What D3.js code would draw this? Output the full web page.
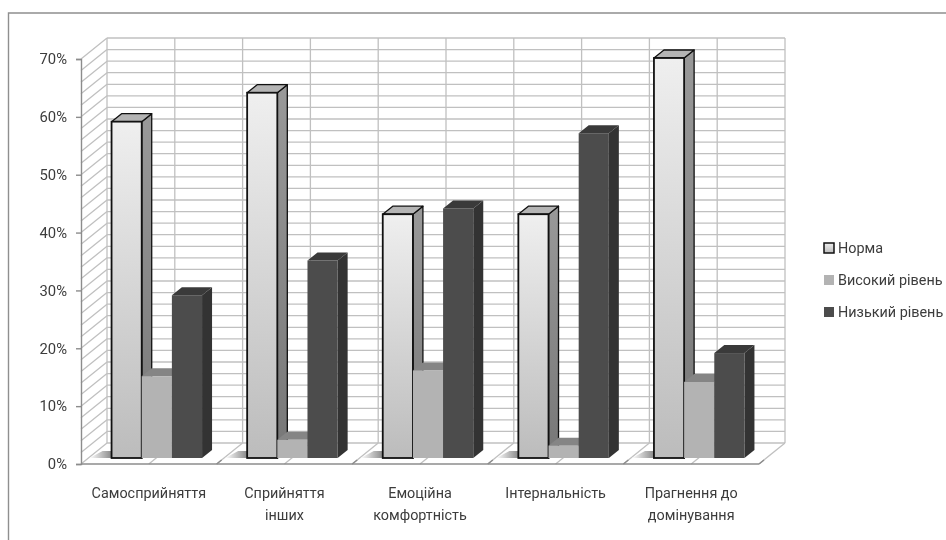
<!DOCTYPE html>
<html>
<head>
<meta charset="utf-8">
<script src="https://cdnjs.cloudflare.com/ajax/libs/d3/7.8.5/d3.min.js"></script>
<style>
html, body { margin: 0; padding: 0; background: #fff; }
svg { display: block; filter: blur(0.45px); }
text { font-family: Roboto, "Noto Sans", sans-serif; font-size: 14.4px; fill: #3c3c3c; }
.grid { stroke: #c0c0c0; stroke-width: 1.3; fill: none; }
.axis-line { stroke: #8c8c8c; stroke-width: 1.4; fill: none; }
</style>
</head>
<body>
<svg id="chart" width="946" height="540"></svg>
<script>
var categories = ["Самосприйняття", "Сприйняття інших", "Емоційна комфортність", "Інтернальність", "Прагнення до домінування"];
var seriesNames = ["Норма", "Високий рівень", "Низький рівень"];
var norma = [59, 64, 43, 43, 70];
var highLevel = [15, 4, 16, 3, 14];
var lowLevel = [29, 35, 44, 57, 19];
var yTicks = [0, 10, 20, 30, 40, 50, 60, 70];
var minorTicks = d3.range(0, 71, 2);

var seriesValues = [norma, highLevel, lowLevel];
var svg = d3.select("#chart");

var left = 81, right = 759, bottom = 464, top_ = 59;
var depthX = 26, depthY = 21;      // wall offset behind the axes
var barDepthX = 10, barDepthY = 8; // depth of one bar
var shiftX = 8, barBase = 458;     // bars stand in the middle of the floor

var x0 = d3.scaleBand().domain(categories).range([left, right]);
var x1 = d3.scaleBand().domain(seriesNames).range([0, 90.5]);
var y = d3.scaleLinear().domain([0, 70]).range([bottom, top_]);
var yBar = d3.scaleLinear().domain([0, 70]).range([bottom - 1, top_ - 1]);

var styles = [
    { front: "url(#normaFront)", side: "url(#normaSide)", top: "#b4b4b4", stroke: "#111" },
    { front: "#b3b3b3", side: "#7c7c7c", top: "#858585", stroke: "none" },
    { front: "#4c4c4c", side: "#333333", top: "#3a3a3a", stroke: "none" }
];

var defs = svg.append("defs");
function addGradient(id, stops, horizontal) {
    var g = defs.append("linearGradient").attr("id", id)
        .attr("x1", 0).attr("y1", 0)
        .attr("x2", horizontal ? 1 : 0).attr("y2", horizontal ? 0 : 1);
    stops.forEach(function(s, i) {
        g.append("stop").attr("offset", i / (stops.length - 1)).attr("stop-color", s);
    });
}
addGradient("normaFront", ["#efefef", "#bcbcbc"]);
addGradient("normaSide", ["#999999", "#777777"]);
addGradient("baseShadow", ["#ffffff", "#8a8a8a"], true);

// outer frame, cropped on the right and at the bottom
svg.append("path")
    .attr("d", "M8.5,540V13H946")
    .attr("fill", "none").attr("stroke", "#8f8f8f").attr("stroke-width", 1.4);

var gridTop = y(70) - depthY;
var gridBottom = y(0) - depthY;

// back wall and left wall, minor lines every 2%
var walls = svg.append("g");
walls.selectAll(".back-h").data(minorTicks).enter().append("line")
    .attr("class", "grid")
    .attr("x1", left + depthX).attr("x2", right + depthX)
    .attr("y1", function(d) { return y(d) - depthY; })
    .attr("y2", function(d) { return y(d) - depthY; });
walls.selectAll(".side-d").data(minorTicks).enter().append("line")
    .attr("class", "grid")
    .attr("x1", left).attr("x2", left + depthX)
    .attr("y1", function(d) { return y(d); })
    .attr("y2", function(d) { return y(d) - depthY; });

var halfSteps = d3.range(0, categories.length * 2 + 1).map(function(i) {
    return left + i * x0.bandwidth() / 2;
});
walls.selectAll(".back-v").data(halfSteps).enter().append("line")
    .attr("class", "grid")
    .attr("x1", function(d) { return d + depthX; })
    .attr("x2", function(d) { return d + depthX; })
    .attr("y1", gridTop).attr("y2", gridBottom);
walls.selectAll(".floor-d").data(x0.domain()).enter().append("line")
    .attr("class", "grid")
    .attr("x1", function(d) { return x0(d) + x0.bandwidth(); })
    .attr("x2", function(d) { return x0(d) + x0.bandwidth() + depthX; })
    .attr("y1", y(0)).attr("y2", gridBottom);
walls.selectAll(".floor-m").data(x0.domain()).enter().append("line")
    .attr("class", "grid")
    .attr("x1", function(d) { return x0(d) + x0.bandwidth() / 2; })
    .attr("x2", function(d) { return x0(d) + x0.bandwidth() / 2 + depthX; })
    .attr("y1", y(0)).attr("y2", gridBottom);

// bars, left to right so each one covers the side of the previous
var groups = svg.selectAll(".cat").data(categories).enter().append("g")
    .attr("class", "cat")
    .attr("transform", function(d) {
        return "translate(" + (x0(d) + (x0.bandwidth() - 90.5) / 2 + shiftX) + ",0)";
    });

groups.each(function(cat, ci) {
    var g = d3.select(this);
    var bx = x1(seriesNames[0]);
    g.append("path")
        .attr("d", "M" + (bx - 22) + "," + barBase + "L" + bx + "," + barBase + "L" + bx + "," + (barBase - 7) + "L" + (bx - 9) + "," + (barBase - 7) + "Z")
        .attr("fill", "url(#baseShadow)");

    seriesNames.forEach(function(name, si) {
        var xa = x1(name), w = x1.bandwidth(), v = seriesValues[si][ci];
        var yt = yBar(v), yb = barBase, st = styles[si];
        var dx = barDepthX, dy = barDepthY;

        g.append("path")
            .attr("d", "M" + (xa + w) + "," + yt + "l" + dx + "," + (-dy) + "L" + (xa + w + dx) + "," + (yb - dy) + "L" + (xa + w) + "," + yb + "Z")
            .attr("fill", st.side).attr("stroke", st.stroke).attr("stroke-width", 1.3).attr("stroke-linejoin", "round");
        g.append("path")
            .attr("d", "M" + xa + "," + yt + "l" + dx + "," + (-dy) + "h" + w + "l" + (-dx) + "," + dy + "Z")
            .attr("fill", st.top).attr("stroke", st.stroke).attr("stroke-width", 1.3).attr("stroke-linejoin", "round");
        g.append("rect")
            .attr("x", xa).attr("y", yt)
            .attr("width", w).attr("height", yb - yt)
            .attr("fill", st.front).attr("stroke", st.stroke)
            .attr("stroke-width", si === 0 ? 1.8 : 0);
    });
});

// value axis through d3.axisLeft
var yAxis = svg.append("g")
    .attr("transform", "translate(" + left + ",0)")
    .call(d3.axisLeft(y).tickValues(yTicks).tickSize(5).tickPadding(9)
        .tickFormat(function(d) { return d + "%"; }));
yAxis.select(".domain").attr("stroke", "#8c8c8c").attr("stroke-width", 1.4);
yAxis.selectAll("line").attr("stroke", "#8c8c8c").attr("stroke-width", 1.4);
yAxis.selectAll("text").style("font-family", "Roboto, sans-serif").style("font-size", "14.8px").attr("fill", "#3c3c3c");

// floor front edge
svg.append("line").attr("class", "axis-line")
    .attr("x1", left).attr("x2", right).attr("y1", y(0)).attr("y2", y(0));
svg.selectAll(".cat-tick").data(categories).enter().append("line")
    .attr("class", "axis-line")
    .attr("x1", function(d) { return x0(d) + x0.bandwidth(); })
    .attr("x2", function(d) { return x0(d) + x0.bandwidth() + 5; })
    .attr("y1", y(0)).attr("y2", y(0) - 4);

// category labels, wrapped the way the chart wraps them
function wrapLabel(label) {
    var words = label.split(" ");
    if (words.length === 1) return words;
    return [words.slice(0, words.length - 1).join(" "), words[words.length - 1]];
}
var labels = svg.selectAll(".cat-label").data(categories).enter().append("text")
    .attr("class", "cat-label")
    .attr("text-anchor", "middle")
    .attr("transform", function(d) {
        return "translate(" + (x0(d) + x0.bandwidth() / 2) + ",498)";
    });
labels.selectAll("tspan").data(wrapLabel).enter().append("tspan")
    .attr("x", 0)
    .attr("y", function(d, i) { return i * 21.5; })
    .text(function(d) { return d; });

// legend
var legendY = d3.scalePoint().domain(seriesNames).range([248, 312]);
var legendFill = ["url(#normaFront)", styles[1].front, styles[2].front];
var legend = svg.selectAll(".legend").data(seriesNames).enter().append("g")
    .attr("class", "legend")
    .attr("transform", function(d) { return "translate(824," + legendY(d) + ")"; });
legend.append("rect")
    .attr("x", 0).attr("y", -5).attr("width", 10).attr("height", 10)
    .attr("fill", function(d, i) { return legendFill[i]; })
    .attr("stroke", function(d, i) { return i === 0 ? "#111" : "none"; })
    .attr("stroke-width", 1.5);
legend.append("text")
    .attr("x", 14).attr("y", 5)
    .text(function(d) { return d; });
</script>
</body>
</html>
